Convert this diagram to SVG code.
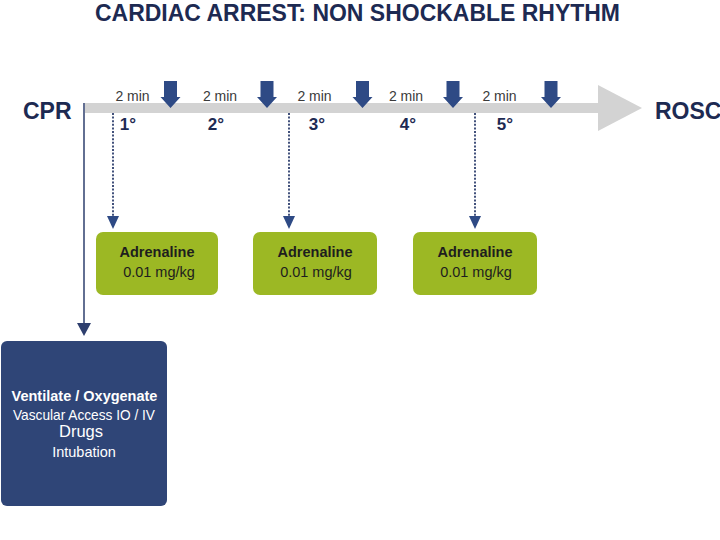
<svg xmlns="http://www.w3.org/2000/svg" width="720" height="540" viewBox="0 0 720 540">
<defs>
<style>
.title{font-family:"Liberation Sans",Arial,sans-serif;font-weight:bold;font-size:24px;fill:#1d2a52}
.big{font-family:"Liberation Sans",Arial,sans-serif;font-weight:bold;font-size:23px;fill:#1d2a52}
.min{font-family:"Liberation Sans",Arial,sans-serif;font-size:14px;fill:#3a3a3a;text-anchor:middle}
.deg{font-family:"Liberation Sans",Arial,sans-serif;font-weight:bold;font-size:17px;fill:#1d2a52;text-anchor:middle}
.gb{font-family:"Liberation Sans",Arial,sans-serif;font-weight:bold;font-size:14.5px;fill:#1e1e1e;text-anchor:middle}
.gr{font-family:"Liberation Sans",Arial,sans-serif;font-size:14.5px;fill:#1e1e1e;text-anchor:middle}
.wb{font-family:"Liberation Sans",Arial,sans-serif;font-weight:bold;font-size:14.5px;fill:#ffffff;text-anchor:middle}
.wr{font-family:"Liberation Sans",Arial,sans-serif;font-size:14.5px;fill:#ffffff;text-anchor:middle}
.green{fill:#9cb824}
.navy{fill:#2f4577}
.blk{fill:#2e4a85}
.dot{stroke:#2e3f6e;stroke-width:1.8;stroke-dasharray:2 1.6;fill:none}
</style>
</defs>
<rect width="720" height="540" fill="#ffffff"/>
<text class="title" x="95" y="21" textLength="525" lengthAdjust="spacingAndGlyphs">CARDIAC ARREST: NON SHOCKABLE RHYTHM</text>

<g id="timeline">
<rect x="85" y="103" width="514" height="10" fill="#d3d3d3"/>
<polygon points="598,85 642,108 598,131" fill="#d3d3d3"/>
</g>

<g id="cpr"><text class="big" x="23" y="119">CPR</text></g>
<g id="rosc"><text class="big" x="655" y="119">ROSC</text></g>

<g id="shocks">
<polygon class="blk" points="164,81 177,81 177,97 180.5,97 170.5,108 160.5,97 164,97"/>
<polygon class="blk" points="260.5,81 273.5,81 273.5,97 277,97 267,108 257,97 260.5,97"/>
<polygon class="blk" points="356,81 369,81 369,97 372.5,97 362.5,108 352.5,97 356,97"/>
<polygon class="blk" points="446.5,81 459.5,81 459.5,97 463,97 453,108 443,97 446.5,97"/>
<polygon class="blk" points="544.5,81 557.5,81 557.5,97 561,97 551,108 541,97 544.5,97"/>
</g>

<g id="labels">
<text class="min" x="132.5" y="101">2 min</text>
<text class="min" x="220" y="101">2 min</text>
<text class="min" x="314.5" y="101">2 min</text>
<text class="min" x="406" y="101">2 min</text>
<text class="min" x="499.5" y="101">2 min</text>
<text class="deg" x="128" y="130">1°</text>
<text class="deg" x="216" y="130">2°</text>
<text class="deg" x="317" y="130">3°</text>
<text class="deg" x="408" y="130">4°</text>
<text class="deg" x="505" y="130">5°</text>
</g>

<g id="connectors">
<line x1="84" y1="103" x2="84" y2="324" stroke="#2e3f6e" stroke-width="1.5"/>
<polygon points="77,323 91,323 84,336" fill="#2e3f6e"/>
<line class="dot" x1="113" y1="113" x2="113" y2="216"/>
<polygon points="107,216 119,216 113,229" fill="#2e4a85"/>
<line class="dot" x1="289" y1="113" x2="289" y2="216"/>
<polygon points="283,216 295,216 289,229" fill="#2e4a85"/>
<line class="dot" x1="475" y1="113" x2="475" y2="216"/>
<polygon points="469,216 481,216 475,229" fill="#2e4a85"/>
</g>

<g id="adrenaline1">
<rect class="green" x="96" y="232" width="122" height="63" rx="7"/>
<text class="gb" x="157" y="257">Adrenaline</text>
<text class="gr" x="159" y="277">0.01 mg/kg</text>
</g>
<g id="adrenaline2">
<rect class="green" x="253" y="232" width="124" height="63" rx="7"/>
<text class="gb" x="315" y="257">Adrenaline</text>
<text class="gr" x="316" y="277">0.01 mg/kg</text>
</g>
<g id="adrenaline3">
<rect class="green" x="413" y="232" width="124" height="63" rx="7"/>
<text class="gb" x="475" y="257">Adrenaline</text>
<text class="gr" x="476" y="277">0.01 mg/kg</text>
</g>

<g id="care">
<rect class="navy" x="1" y="341" width="166" height="165" rx="6"/>
<text class="wb" x="84.5" y="401">Ventilate / Oxygenate</text>
<text class="wr" x="84" y="420" textLength="142" lengthAdjust="spacingAndGlyphs">Vascular Access IO / IV</text>
<text class="wr" x="81" y="437" style="font-size:16.5px">Drugs</text>
<text class="wr" x="84" y="457">Intubation</text>
</g>
</svg>
